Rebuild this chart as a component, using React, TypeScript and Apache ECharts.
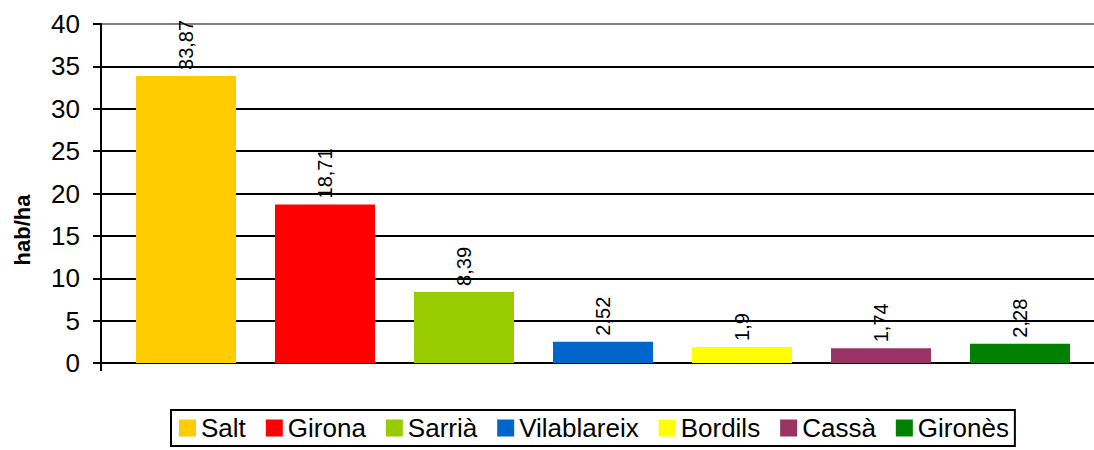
import React, { useEffect, useRef } from "react";
import * as echarts from "echarts";

const categories = ["Salt", "Girona", "Sarrià", "Vilablareix", "Bordils", "Cassà", "Gironès"];
const values = [33.87, 18.71, 8.39, 2.52, 1.9, 1.74, 2.28];
const colors = ["#FFCC00", "#FF0000", "#99CC00", "#0066CC", "#FFFF00", "#993366", "#008000"];
const yTicks = { min: 0, max: 40, interval: 5 };
const yName = "hab/ha";

const FONT = "'Liberation Sans', Arial, sans-serif";

export default function App() {
  const ref = useRef<HTMLDivElement>(null);
  useEffect(() => {
    if (!ref.current) return;
    const chart = echarts.init(ref.current, null, { renderer: "svg" });
    const gridColors = [];
    for (let v = yTicks.min; v <= yTicks.max; v += yTicks.interval) {
      gridColors.push(v === yTicks.max ? "#808080" : "#000000");
    }
    chart.setOption({
      animation: false,
      textStyle: { fontFamily: FONT },
      grid: { left: 101, top: 24, right: 6, height: 339, containLabel: false },
      legend: {
        left: 171,
        top: 410,
        padding: [5, 6, 5, 8],
        itemWidth: 17,
        itemHeight: 17,
        itemGap: 20,
        borderColor: "#000",
        borderWidth: 2,
        icon: "rect",
        textStyle: { fontFamily: FONT, fontSize: 26, color: "#000" },
        data: categories,
      },
      xAxis: {
        type: "category",
        data: [""],
        axisLine: { show: true, lineStyle: { color: "#000", width: 2 } },
        axisTick: { show: true, length: 8, lineStyle: { color: "#000", width: 2 } },
        axisLabel: { show: false },
      },
      yAxis: {
        type: "value",
        min: yTicks.min,
        max: yTicks.max,
        interval: yTicks.interval,
        axisLine: { show: true, lineStyle: { color: "#000", width: 2 } },
        axisTick: { show: true, length: 8, inside: false, lineStyle: { color: "#000", width: 2 } },
        axisLabel: { fontFamily: FONT, fontSize: 26, color: "#000", margin: 21 },
        splitLine: { show: true, lineStyle: { color: gridColors, width: 2 } },
      },
      graphic: [
        {
          type: "text",
          x: 22,
          y: 230,
          rotation: Math.PI / 2,
          style: {
            text: yName,
            fontFamily: FONT,
            fontWeight: "bold",
            fontSize: 22,
            fill: "#000",
            align: "center",
            verticalAlign: "middle",
          },
        },
      ],
      series: categories.map((name, i) => ({
        name,
        type: "bar",
        barWidth: 100,
        barGap: "39%",
        itemStyle: { color: colors[i] },
        data: [values[i]],
        label: {
          show: true,
          position: "top",
          rotate: 90,
          align: "left",
          verticalAlign: "middle",
          distance: 6,
          fontFamily: FONT,
          fontSize: 20,
          color: "#000",
          formatter: (p: any) => String(p.value).replace(".", ","),
        },
      })),
    });
    return () => chart.dispose();
  }, []);
  return (
    <div style={{ position: "fixed", left: 0, top: 0, width: 1094, height: 450, overflow: "hidden", background: "#fff" }}>
      <div ref={ref} style={{ position: "absolute", left: 0, top: 0, width: 1111, height: 450 }} />
    </div>
  );
}
